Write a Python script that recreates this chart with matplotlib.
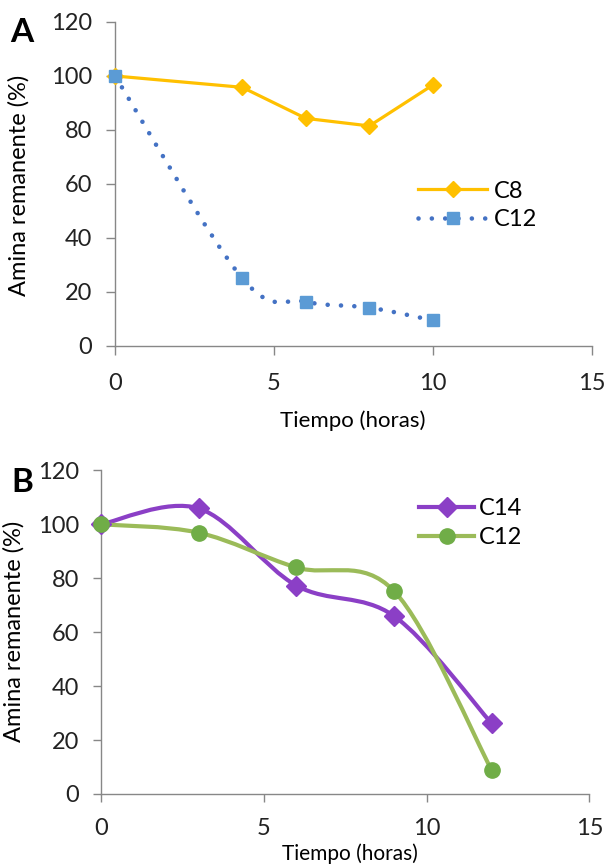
import matplotlib
matplotlib.use('Agg')
import matplotlib.pyplot as plt
from matplotlib.path import Path
from matplotlib.patches import PathPatch
from matplotlib.lines import Line2D

plt.rcParams['font.family'] = ['Lato', 'DejaVu Sans']

# Panel A data
time_a = [0, 4, 6, 8, 10]
c8_a = [100, 95.8, 84.3, 81.5, 96.7]
c12_a = [100, 25.1, 16.4, 14.2, 9.5]

# Panel B data
time_b = [0, 3, 6, 9, 12]
c14_b = [100, 105.9, 77.3, 66.0, 26.2]
c12_b = [100, 96.9, 84.0, 75.3, 8.9]

x_ticks = [0, 5, 10, 15]
y_ticks = [0, 20, 40, 60, 80, 100, 120]

ORANGE = '#FFC000'
BLUE_MK = '#5B9BD5'
BLUE_LN = '#4472C4'
PURPLE = '#8B3FC6'
GREEN_LN = '#9BBB59'
GREEN_MK = '#70AD47'
AXIS = '#878787'


def smooth_path(xs, ys):
    """Excel-style smoothed line (Catmull-Rom as cubic Bezier)"""
    pts = list(zip(xs, ys))
    n = len(pts)
    verts = [pts[0]]
    codes = [Path.MOVETO]
    for i in range(n - 1):
        p0 = pts[max(i - 1, 0)]
        p1 = pts[i]
        p2 = pts[i + 1]
        p3 = pts[min(i + 2, n - 1)]
        c1 = (p1[0] + (p2[0] - p0[0]) / 6, p1[1] + (p2[1] - p0[1]) / 6)
        c2 = (p2[0] - (p3[0] - p1[0]) / 6, p2[1] - (p3[1] - p1[1]) / 6)
        verts += [c1, c2, p2]
        codes += [Path.CURVE4] * 3
    return Path(verts, codes)


def style_axes(ax, tick_len, ypad, xpad):
    ax.set_xlim(0, 15)
    ax.set_ylim(0, 120)
    ax.set_xticks(x_ticks)
    ax.set_yticks(y_ticks)
    for side in ['top', 'right']:
        ax.spines[side].set_visible(False)
    for side in ['left', 'bottom']:
        ax.spines[side].set_color(AXIS)
        ax.spines[side].set_linewidth(1.0)
    ax.tick_params(axis='both', colors=AXIS, length=tick_len, width=1.0,
                   direction='out', labelsize=17, labelcolor='#222222')
    ax.tick_params(axis='y', pad=ypad)
    ax.tick_params(axis='x', pad=xpad)


fig = plt.figure(figsize=(6.08, 8.65), dpi=100)

# ---------- Panel A ----------
ax1 = fig.add_axes([0.1891, 0.6, 0.7846, 0.3746])
style_axes(ax1, 6.5, 10, 13)
ax1.plot(time_a, c8_a, color=ORANGE, lw=2.3, marker='D', ms=8.5,
         mfc=ORANGE, mec=ORANGE, zorder=3, clip_on=False)
ax1.add_patch(PathPatch(smooth_path(time_a, c12_a), fill=False,
                        edgecolor=BLUE_LN, lw=3.3,
                        linestyle=(0, (0.01, 2.9)), capstyle='round',
                        zorder=2, clip_on=False))
ax1.plot(time_a, c12_a, ls='none', marker='s', ms=8.5, mfc=BLUE_MK,
         mec=BLUE_MK, zorder=4, clip_on=False)

h_a = [Line2D([], [], color=ORANGE, lw=2.3, marker='D', ms=8.5),
       Line2D([], [], color=BLUE_LN, lw=3.3, ls=(0, (0.01, 2.9)),
              dash_capstyle='round', marker='s', ms=8.5,
              mfc=BLUE_MK, mec=BLUE_MK)]
ax1.legend(h_a, ['C8', 'C12'], loc='upper left', bbox_to_anchor=(0.636, 0.51),
           frameon=False, fontsize=17, borderpad=0, borderaxespad=0,
           handlelength=2.9, handletextpad=0.3, labelspacing=0.3,
           numpoints=1)

ax1.set_xlabel('Tiempo (horas)', fontsize=16)
ax1.xaxis.set_label_coords(0.499, -0.198)
ax1.set_ylabel('Amina remanente (%)', fontsize=17)
ax1.yaxis.set_label_coords(-0.178, 0.497)
fig.text(0.036, 0.962, 'A', fontsize=24, fontweight='bold',
         ha='center', va='center')

# ---------- Panel B ----------
ax2 = fig.add_axes([0.1661, 0.0821, 0.8031, 0.3741])
style_axes(ax2, 6, 10, 11)
ax2.add_patch(PathPatch(smooth_path(time_b, c14_b), fill=False,
                        edgecolor=PURPLE, lw=3.0, capstyle='round',
                        zorder=2, clip_on=False))
ax2.plot(time_b, c14_b, ls='none', marker='D', ms=10, mfc=PURPLE,
         mec=PURPLE, zorder=4, clip_on=False)
ax2.add_patch(PathPatch(smooth_path(time_b, c12_b), fill=False,
                        edgecolor=GREEN_LN, lw=3.0, capstyle='round',
                        zorder=2, clip_on=False))
ax2.plot(time_b, c12_b, ls='none', marker='o', ms=11, mfc=GREEN_MK,
         mec=GREEN_MK, zorder=4, clip_on=False)

h_b = [Line2D([], [], color=PURPLE, lw=3.0, marker='D', ms=10),
       Line2D([], [], color=GREEN_LN, lw=3.0, marker='o', ms=11,
              mfc=GREEN_MK, mec=GREEN_MK)]
ax2.legend(h_b, ['C14', 'C12'], loc='upper left', bbox_to_anchor=(0.652, 0.915),
           frameon=False, fontsize=17, borderpad=0, borderaxespad=0,
           handlelength=2.3, handletextpad=0.2, labelspacing=0.35,
           numpoints=1)

ax2.set_xlabel('Tiempo (horas)', fontsize=15)
ax2.xaxis.set_label_coords(0.51, -0.152)
ax2.set_ylabel('Amina remanente (%)', fontsize=17)
ax2.yaxis.set_label_coords(-0.156, 0.504)
fig.text(0.036, 0.442, 'B', fontsize=24, fontweight='bold',
         ha='center', va='center')

fig.savefig('out.png', dpi=100)
